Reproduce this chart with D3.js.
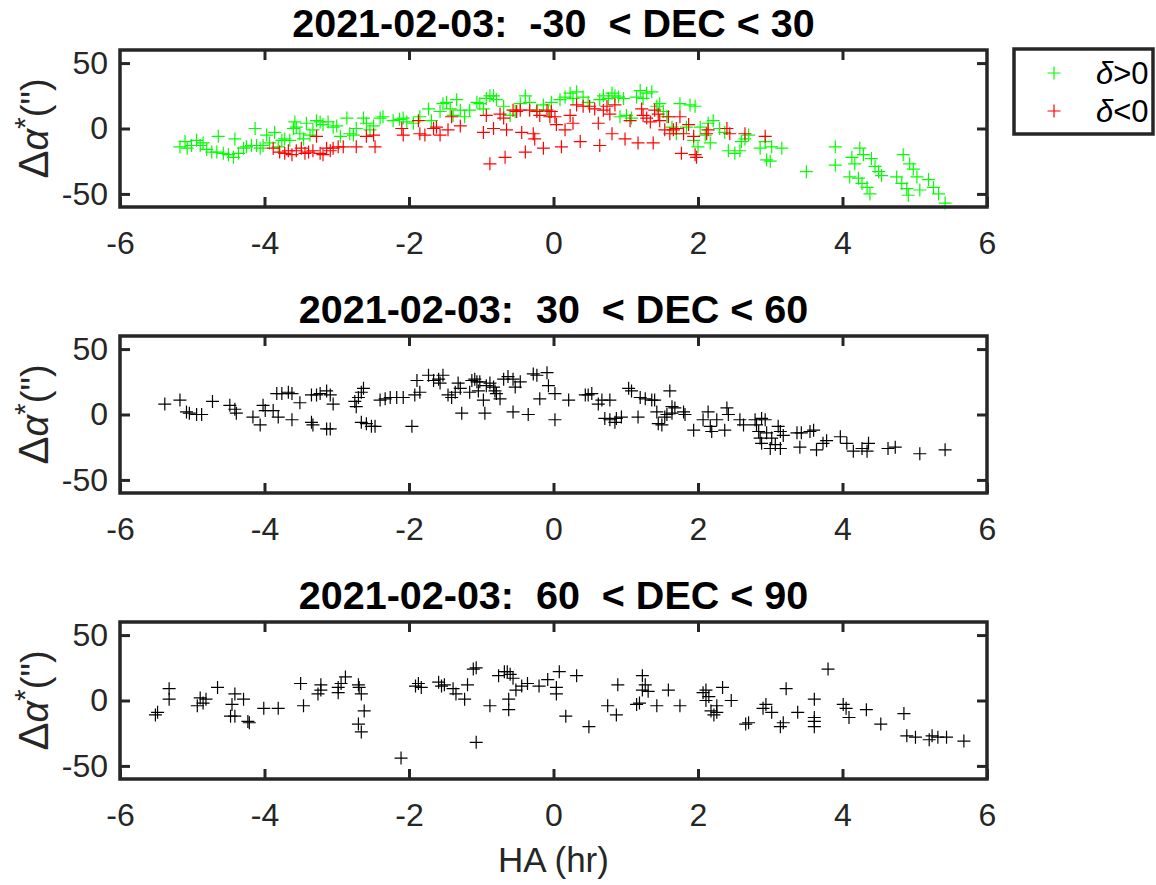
<!DOCTYPE html>
<html>
<head>
<meta charset="utf-8">
<script src="https://cdn.jsdelivr.net/npm/d3@7"></script>
<style>
  body { margin: 0; background: #fff; }
  svg { display: block; font-family: "Liberation Sans", Arial, Helvetica, sans-serif; }
</style>
</head>
<body>
<div id="chart"></div>
<script>
const xTicks = [-6, -4, -2, 0, 2, 4, 6];
const yTicks = [-50, 0, 50];
const panelTitles = [
  '2021-02-03:  -30  < DEC < 30',
  '2021-02-03:  30  < DEC < 60',
  '2021-02-03:  60  < DEC < 90'
];
const legendLabels = ['>0', '<0'];

// panel 1, declination > 0 (green)
const p1PosHA = [-5.17, -5.10, -5.07, -5.01, -4.94, -4.89, -4.85, -4.80, -4.73, -4.66, -4.64, -4.57, -4.50, -4.43, -4.41, -4.36,
  -4.29, -4.25, -4.18, -4.13, -4.11, -4.06, -4.02, -3.97, -3.93, -3.86, -3.81, -3.76, -3.72, -3.65, -3.60, -3.58, -3.56, -3.51,
  -3.46, -3.42, -3.37, -3.33, -3.28, -3.23, -3.19, -3.12, -3.05, -3.00, -2.95, -2.86, -2.82, -2.77, -2.73, -2.63, -2.59, -2.54,
  -2.49, -2.40, -2.36, -2.22, -2.13, -2.08, -2.03, -1.94, -1.85, -1.73, -1.69, -1.57, -1.53, -1.48, -1.43, -1.39, -1.34, -1.29,
  -1.23, -1.16, -1.06, -1.02, -0.97, -0.93, -0.88, -0.83, -0.79, -0.69, -0.60, -0.53, -0.46, -0.39, -0.33, -0.23, -0.14, -0.07,
  -0.03, 0.09, 0.16, 0.23, 0.27, 0.32, 0.41, 0.48, 0.64, 0.69, 0.76, 0.81, 0.85, 0.90, 0.92, 0.97, 1.01, 1.08, 1.15, 1.20, 1.24,
  1.29, 1.36, 1.43, 1.47, 1.52, 1.57, 1.64, 1.70, 1.75, 1.84, 1.89, 1.94, 1.96, 2.00, 2.03, 2.10, 2.14, 2.17, 2.21, 2.30, 2.37,
  2.42, 2.51, 2.58, 2.60, 2.65, 2.70, 2.86, 2.93, 2.95, 3.00, 3.02, 3.16, 3.50, 3.90, 3.90, 4.13, 4.10, 4.17, 4.22, 4.24, 4.27,
  4.29, 4.34, 4.38, 4.40, 4.45, 4.50, 4.54, 4.75, 4.82, 4.84, 4.89, 4.91, 4.93, 4.98, 5.03, 5.07, 5.19, 5.26, 5.33, 5.42];
const p1PosD = [-14, -10, -15, -13, -9, -13, -11, -16, -18, -18, -6, -19, -20, -22, -8, -19,
  -15, -14, -13, 0, -13, -15, -13, -5, -11, -3, -14, -9, -8, -9, 0, 5, 1, -4,
  -8, 4, -5, -1, 6, 5, 3, 5, 1, 2, -6, 8, -4, -5, 0, 8, 4, -1,
  2, 8, 9, 6, 7, 8, 5, 4, 9, 15, 6, 13, 19, 20, 15, 10, 22, 14,
  9, 14, 20, 19, 15, 23, 25, 25, 22, 17, 10, 13, 19, 25, 20, 14, 18, 13,
  20, 22, 24, 27, 23, 28, 24, 20, 22, 25, 23, 27, 25, 24, 9, 23, 10, 8, 24, 29, 23,
  27, 28, 17, 19, 13, 9, 1, -4, 19, 1, 18, -9, 17, -14, 1, -5, 4, -11, 6, 0, -3,
  -17, -19, -17, -10, -8, -5, -15, -10, -24, -25, -14, -15, -33, -14, -28, -22, -37, -27, -38, -15, -42,
  -20, -45, -50, -23, -29, -33, -36, -37, -42, -20, -46, -51, -27, -31, -37, -47, -39, -45, -50, -57];

// panel 1, declination < 0 (red)
const p1NegHA = [-3.88, -3.79, -3.72, -3.67, -3.62, -3.56, -3.49, -3.44, -3.39, -3.33, -3.28, -3.23, -3.19, -3.14, -3.09, -3.05,
  -2.98, -2.91, -2.73, -2.59, -2.49, -2.47, -2.10, -2.08, -1.87, -1.85, -1.78, -1.66, -1.62, -1.57, -1.46, -1.41, -1.29,
  -0.97, -0.93, -0.88, -0.83, -0.74, -0.69, -0.67, -0.65, -0.56, -0.51, -0.46, -0.44, -0.39, -0.33, -0.28, -0.26, -0.23,
  -0.19, -0.14, -0.09, -0.05, -0.03, 0.02, 0.04, 0.11, 0.16, 0.23, 0.27, 0.32, 0.37, 0.41, 0.50, 0.57, 0.62, 0.64, 0.69,
  0.74, 0.78, 0.81, 0.85, 0.99, 1.06, 1.17, 1.22, 1.24, 1.29, 1.34, 1.38, 1.40, 1.45, 1.47, 1.54, 1.59, 1.61, 1.66, 1.70,
  1.75, 1.77, 1.80, 1.87, 1.94, 1.96, 1.98, 2.12, 2.14, 2.40, 2.44, 2.65, 2.93];
const p1NegD = [-15, -18, -19, -17, -20, -17, -15, -19, -18, -17, -6, -19, -20, -15, -17, -15,
  -14, -14, -14, -6, -5, -14, 0, -5, 6, -4, -5, 0, 1, -5, -1, 9, 2,
  -3, 10, -27, 0, 11, 8, -22, -1, 14, 13, 14, -3, -18, 14, -4, -8, 13,
  10, -15, 14, 9, 13, 9, 3, -14, -1, 10, 4, 18, -10, 17, 17, 15, 4, -13, 14,
  17, 11, -4, 18, -8, 6, -11, 15, 10, 8, 5, -11, 14, 11, 6, -1, 9, -4, -1, 0,
  9, -19, -4, 3, -6, -20, -22, -4, -1, 0, -4, -4, -6];

// panel 2
const p2HA = [-5.38, -5.17, -5.08, -5.04, -4.94, -4.87, -4.72, -4.48, -4.41, -4.39, -4.16, -4.06, -4.02, -3.99, -3.88, -3.81,
  -3.62, -3.83, -3.76, -3.67, -3.62, -3.51, -3.35, -3.28, -3.23, -3.14, -3.09, -3.05, -3.35, -3.33, -3.14, -3.09,
  -2.75, -2.73, -2.70, -2.66, -2.63, -2.66, -2.59, -2.52, -2.47, -2.40, -2.33, -2.26, -2.17, -2.08, -1.96, -1.92, -1.85,
  -1.89, -1.73, -1.66, -1.59, -1.53, -1.57, -1.46, -1.41, -1.36, -1.32, -1.29, -1.27, -1.16, -1.13, -1.09, -1.06, -1.04,
  -1.02, -0.97, -0.95, -0.93, -0.88, -0.83, -0.81, -0.79, -0.74, -0.69, -0.63, -0.56, -0.53, -0.46, -0.56, -0.35, -0.28,
  -0.23, -0.19, -0.09, -0.07, 0.02, 0.02, 0.21, 0.44, 0.48, 0.53, 0.62, 0.67, 0.78, 0.71, 0.78, 0.85, 0.87, 0.94, 1.04,
  1.08, 1.17, 1.20, 1.27, 1.36, 1.40, 1.43, 1.45, 1.50, 1.54, 1.57, 1.61, 1.64, 1.64, 1.68, 1.80, 1.82, 1.94, 2.07, 2.14,
  2.17, 2.19, 2.26, 2.37, 2.40, 2.42, 2.58, 2.63, 2.79, 2.81, 2.84, 2.86, 2.88, 2.88, 2.93, 2.95, 3.00, 3.02, 3.07, 3.11,
  3.14, 3.18, 3.14, 3.37, 3.43, 3.41, 3.55, 3.60, 3.64, 3.73, 3.78, 3.97, 4.06, 4.15, 4.27, 4.34, 4.36, 4.63, 4.73, 5.07, 5.42];
const p2D = [8, 11, 2, 1, 0, 0, 10, 7, 4, 1, -2, -8, 7, 3, 3, -2,
  -4, 16, 16, 17, 16, 9, 15, 15, 16, 18, 15, 8, -6, -8, -11, -11,
  10, 6, 13, 17, 20, -6, -7, -9, -9, 11, 12, 13, 13, 13, -9, 15, 17,
  26, 30, 26, 27, 30, 24, 15, 13, 17, 24, 20, 1, 17, 26, 27, 25, 18,
  25, 11, 1, 22, 24, 21, 18, 16, 12, 27, 29, 27, 21, 25, 2, 0, 31,
  30, 12, 32, 22, 16, -4, 11, 15, 15, 16, 8, 11, 11, -3, -4, -6, -3, -2, 20,
  18, -2, 13, 12, 11, 11, 2, -7, -8, -2, 0, 18, 6, 1, 5, 2, 0, -12, -4, 2,
  -9, -13, -4, -12, 5, 0, -4, -8, -4, -8, -13, -18, -3, -22, -4, -14, -26, -18, -23, -9,
  -13, -16, -26, -14, -14, -25, -13, -12, -27, -22, -20, -17, -22, -28, -26, -28, -22, -26, -25, -30, -27];

// panel 3
const p3HA = [-5.51, -5.48, -5.32, -5.32, -4.93, -4.89, -4.85, -4.81, -4.65, -4.47, -4.45, -4.41, -4.41, -4.29, -4.23, -4.21,
  -4.01, -3.81, -3.50, -3.46, -3.26, -3.22, -3.22, -2.98, -2.98, -2.94, -2.88, -2.70, -2.69, -2.66, -2.70, -2.66, -2.62,
  -2.11, -1.91, -1.87, -1.83, -1.59, -1.55, -1.51, -1.39, -1.35, -1.23, -1.19, -1.11, -1.07, -1.07, -0.88, -0.76, -0.68,
  -0.64, -0.60, -0.56, -0.62, -0.62, -0.52, -0.44, -0.36, -0.20, -0.08, 0.04, 0.04, 0.08, 0.17, 0.32, 0.49, 0.75, 0.87,
  0.89, 1.15, 1.19, 1.23, 1.23, 1.27, 1.31, 1.43, 1.59, 1.75, 2.07, 2.11, 2.11, 2.15, 2.18, 2.22, 2.26, 2.34, 2.26, 2.46,
  2.66, 2.70, 2.90, 2.94, 3.02, 3.14, 3.18, 3.22, 3.38, 3.61, 3.61, 3.61, 3.61, 3.80, 4.01, 4.05, 4.09, 4.33, 4.53, 4.85,
  4.89, 5.01, 5.20, 5.24, 5.32, 5.44, 5.68];
const p3D = [-11, -9, 9, 1, -4, 2, -2, 1, 10, -12, -3, 5, -12, 1, -16, -17,
  -6, -6, 13, -4, 5, 12, 8, 10, 6, 13, 18, 12, 10, 5, -18, -24, -8,
  -44, 11, 13, 10, 14, 11, 12, 9, 5, 1, 12, 24, 25, -32, -4, 19, 22,
  22, 20, 17, 1, -7, 8, 11, 13, 11, 16, 10, 5, 22, -12, 19, -20, -4, -11,
  12, -3, -2, 19, 8, 12, 7, -4, 8, -4, 6, 8, 0, 3, -8, -11, -9, 10, -4, 0,
  -18, -17, -6, -3, -9, -20, -17, 9, -9, -13, -16, -20, 1, 24, -3, -6, -13, -7, -18, -10,
  -27, -28, -30, -27, -28, -28, -31];

const W = 1156, H = 885;
const box = { left: 120, right: 987, height: 157 };
const panelTops = [50, 336, 622];
const axisColor = '#262626';
const font = '"Liberation Sans", Arial, Helvetica, sans-serif';
const tickFont = 32;

const svg = d3.select('#chart').append('svg')
  .attr('width', W).attr('height', H)
  .attr('viewBox', `0 0 ${W} ${H}`);

const x = d3.scaleLinear().domain([-6, 6]).range([box.left, box.right]);

const plus = 'M-6.5,0H6.5M0,-6.5V6.5';
const hyphenNum = d => String(d);

function drawPanel(i, series) {
  const top = panelTops[i];
  const y = d3.scaleLinear().domain([-60, 60]).range([top + box.height, top]);
  const g = svg.append('g');

  series.forEach(s => {
    g.append('g').selectAll('path')
      .data(d3.range(s.ha.length))
      .join('path')
      .attr('d', plus)
      .attr('transform', k => `translate(${x(s.ha[k])},${y(s.d[k])})`)
      .attr('fill', 'none')
      .attr('stroke', s.color)
      .attr('stroke-width', 1.2);
  });

  const styleAxis = sel => {
    sel.select('.domain').remove();
    sel.selectAll('.tick line').attr('stroke', axisColor).attr('stroke-width', 3);
    sel.selectAll('.tick text')
      .attr('fill', axisColor)
      .style('font-family', font)
      .style('font-size', tickFont + 'px');
  };

  g.append('g').attr('transform', `translate(0,${top + box.height})`)
    .call(d3.axisBottom(x).tickValues(xTicks).tickSize(-10).tickPadding(24).tickFormat(hyphenNum))
    .call(styleAxis);
  g.append('g').attr('transform', `translate(0,${top})`)
    .call(d3.axisTop(x).tickValues(xTicks.slice(1, -1)).tickSize(-10).tickFormat(''))
    .call(styleAxis);
  g.append('g').attr('transform', `translate(${box.left},0)`)
    .call(d3.axisLeft(y).tickValues(yTicks).tickSize(-10).tickPadding(12).tickFormat(hyphenNum))
    .call(styleAxis);
  g.append('g').attr('transform', `translate(${box.right},0)`)
    .call(d3.axisRight(y).tickValues(yTicks).tickSize(-10).tickFormat(''))
    .call(styleAxis);

  g.append('rect')
    .attr('x', box.left).attr('y', top)
    .attr('width', box.right - box.left).attr('height', box.height)
    .attr('fill', 'none').attr('stroke', axisColor).attr('stroke-width', 3.5);

  g.append('text')
    .attr('x', (box.left + box.right) / 2).attr('y', top - 13.5)
    .attr('text-anchor', 'middle')
    .style('white-space', 'pre')
    .style('font-family', font).style('font-size', '39.5px').style('font-weight', 'bold')
    .attr('fill', '#000')
    .text(panelTitles[i]);

  const yl = g.append('text')
    .attr('transform', `translate(48,${top + box.height / 2}) rotate(-90)`)
    .attr('text-anchor', 'middle')
    .attr('fill', axisColor)
    .style('font-family', font).style('font-size', '38px');
  yl.append('tspan').style('font-size', '42px').text('\u0394');
  yl.append('tspan').style('font-style', 'italic').text('\u03b1');
  yl.append('tspan').attr('dy', -13).style('font-size', '30px').text('*');
  yl.append('tspan').attr('dy', 13).text('(")');
}

drawPanel(0, [
  { ha: p1PosHA, d: p1PosD, color: '#00ff00' },
  { ha: p1NegHA, d: p1NegD, color: '#ff0000' }
]);
drawPanel(1, [{ ha: p2HA, d: p2D, color: '#000' }]);
drawPanel(2, [{ ha: p3HA, d: p3D, color: '#000' }]);

svg.append('text')
  .attr('x', (box.left + box.right) / 2).attr('y', 872)
  .attr('text-anchor', 'middle')
  .attr('fill', axisColor)
  .style('font-family', font).style('font-size', '35px')
  .text('HA (hr)');

// legend
const legend = svg.append('g');
legend.append('rect')
  .attr('x', 1014).attr('y', 49).attr('width', 139).attr('height', 85)
  .attr('fill', '#fff').attr('stroke', axisColor).attr('stroke-width', 3.5);
const legendColors = ['#00ff00', '#ff0000'];
const legendY = d3.scalePoint().domain(legendLabels).range([73, 111]);
legendLabels.forEach((lab, k) => {
  legend.append('path')
    .attr('d', plus)
    .attr('transform', `translate(1054,${legendY(lab)})`)
    .attr('fill', 'none').attr('stroke', legendColors[k]).attr('stroke-width', 1.2);
  const t = legend.append('text')
    .attr('x', 1096).attr('y', legendY(lab) + 11)
    .attr('fill', '#000')
    .style('font-family', font).style('font-size', '31px');
  t.append('tspan').style('font-style', 'italic').text('\u03b4');
  t.append('tspan').text(lab);
});
</script>
</body>
</html>
